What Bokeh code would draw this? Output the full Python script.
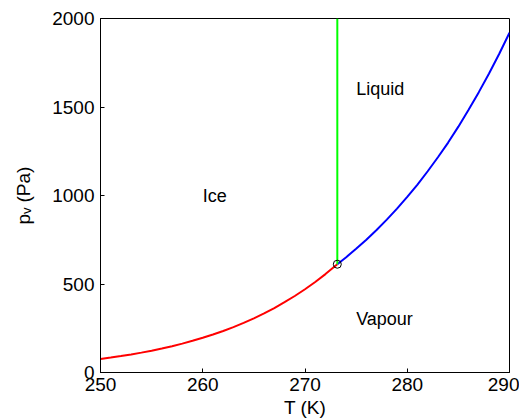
from bokeh.plotting import figure
from bokeh.models import Range1d, FixedTicker
from bokeh.core.properties import value
from bokeh.embed import file_html
from bokeh.resources import INLINE

# Saturation vapour pressure over ice (K, Pa)
T_ice = [250, 251, 252, 253, 254, 255, 256, 257, 258, 259, 260, 261, 262,
         263, 264, 265, 266, 267, 268, 269, 270, 271, 272, 273.16]
p_ice = [76.3, 84.1, 92.6, 102.0, 112.3, 123.4, 135.6, 148.8, 163.3, 179.0,
         196.1, 214.7, 234.8, 256.7, 280.4, 306.2, 334.0, 364.3, 397.1,
         432.1, 470.3, 511.6, 555.9, 611.7]

# Saturation vapour pressure over liquid water (K, Pa)
T_liq = [273.16, 274, 275, 276, 277, 278, 279, 280, 281, 282, 283, 284,
         285, 286, 287, 288, 289, 290]
p_liq = [611.7, 650.2, 698.7, 750.3, 805.2, 863.7, 925.6, 992, 1062, 1137,
         1216, 1299, 1389, 1484, 1584, 1689, 1801, 1920]

# Melting line (vertical at triple point)
T_melt = [273.16, 273.16]
p_melt = [611.7, 2000]

# Triple point
T_tp = [273.16]
p_tp = [611.7]

# Region labels
region_names = ["Ice", "Liquid", "Vapour"]
region_T = [260, 275, 275]
region_p = [1000, 1600, 300]

x_ticks = [250, 260, 270, 280, 290]
y_ticks = [0, 500, 1000, 1500, 2000]

FONT = "Liberation Sans"

p = figure(output_backend="svg", toolbar_location=None,
           frame_width=409, frame_height=354,
           x_range=Range1d(250, 290), y_range=Range1d(0, 2000))
p.min_border_left = 100
p.min_border_right = 10
p.min_border_top = 18
p.min_border_bottom = 46

p.grid.visible = False
p.outline_line_color = "black"
p.outline_line_width = 1
p.outline_line_alpha = 1

for ax in (p.xaxis[0], p.yaxis[0]):
    ax.major_tick_in = 4
    ax.major_tick_out = 0
    ax.minor_tick_line_color = None
    ax.axis_line_color = "black"
    ax.major_tick_line_color = "black"
    ax.major_label_text_font = FONT
    ax.major_label_text_font_size = "19px"
    ax.major_label_text_color = "black"
    ax.axis_label_text_font = FONT
    ax.axis_label_text_font_size = "19px"
    ax.axis_label_text_font_style = "normal"
    ax.axis_label_text_color = "black"

p.xaxis.ticker = FixedTicker(ticks=x_ticks)
p.yaxis.ticker = FixedTicker(ticks=y_ticks)
p.xaxis.major_label_standoff = 5
p.yaxis.major_label_standoff = 6
p.xaxis.axis_label = "T (K)"
p.yaxis.axis_label = "p\u1d65 (Pa)"
p.xaxis.axis_label_standoff = 3
p.yaxis.axis_label_standoff = 15

p.line(T_ice, p_ice, line_color="#ff0000", line_width=2)
p.line(T_liq, p_liq, line_color="#0000ff", line_width=2)
p.line(T_melt, p_melt, line_color="#00ff00", line_width=2)
p.scatter(T_tp, p_tp, marker="circle", size=8, fill_color=None,
          line_color="black", line_width=1)

p.text(region_T, region_p, text=region_names, text_align="left",
       text_baseline="middle", text_font=value(FONT),
       text_font_size="18px", text_color="black")

open("out.html", "w").write(file_html(p, INLINE))
